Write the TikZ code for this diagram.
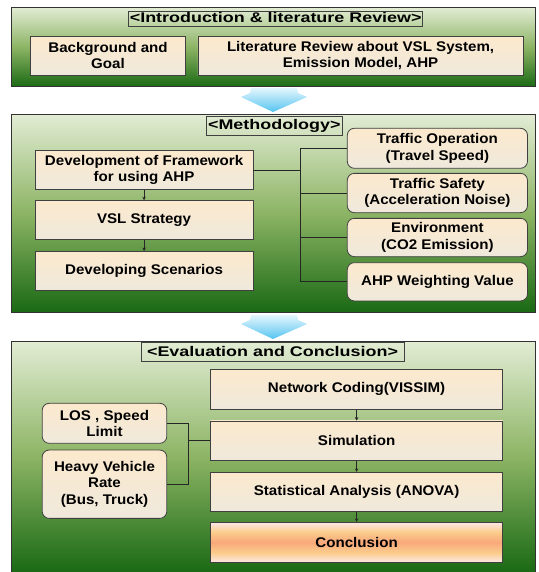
\documentclass[tikz,border=0pt]{standalone}
\usepackage{fontspec}
\setmainfont{Liberation Sans}[FakeStretch=1.08]
\newfontfamily\headfont{Liberation Sans}[FakeStretch=1.28]
\usetikzlibrary{arrows.meta}
\definecolor{panTop}{RGB}{226,236,212}
\definecolor{panMid}{RGB}{140,180,100}
\definecolor{panBot}{RGB}{26,105,20}
\definecolor{boxTop}{RGB}{252,233,205}
\definecolor{boxBot}{RGB}{239,233,220}
\definecolor{arrTop}{RGB}{228,246,253}
\definecolor{arrBot}{RGB}{85,196,240}
\definecolor{cPink}{RGB}{253,232,232}
\definecolor{cOrL}{RGB}{251,205,140}
\definecolor{cOr}{RGB}{249,168,122}
\pgfdeclareverticalshading{conclshade}{100bp}{color(0bp)=(cPink); color(25bp)=(cPink); color(37bp)=(cOrL); color(50bp)=(cOr); color(63bp)=(cOrL); color(75bp)=(cPink); color(100bp)=(cPink)}

\begin{document}
\begin{tikzpicture}[x=20pt, y=-20pt,
		font=\fontsize{14}{16.5}\selectfont\bfseries,
		panel/.style={draw=black!80, line width=1pt, top color=panTop, bottom color=panBot, middle color=panMid},
		heading/.style={draw=black!75, line width=0.6pt, inner sep=0pt, text height=10.5pt, text depth=2.5pt, font=\fontsize{14}{16}\selectfont\headfont\bfseries},
		box/.style={draw=black!75, line width=0.8pt, top color=boxTop, bottom color=boxBot, align=center, inner sep=2pt},
		rbox/.style={box, rounded corners=7pt},
		link/.style={draw=black!85, line width=0.7pt},
		flow/.style={link, -{Stealth[length=3.5pt, width=3.5pt]}},
		downarrow/.style={top color=arrTop, bottom color=arrBot, draw=none}]
			%%%%% START %%%%%
			
			\useasboundingbox (0, 0) rectangle (26.9, 28.6);
			
			% introduction panel
			\draw[panel] (0.55, 0.365) rectangle (26.75, 4.35);
			\node[heading, minimum width=294pt, minimum height=14.3pt] (intro) at (13.785, 0.94) {<Introduction \& literature Review>};
			\node[box, minimum width=155.5pt, minimum height=39.3pt] (bg) at (5.4, 2.783) {Background and\\Goal};
			\node[box, minimum width=325.3pt, minimum height=39.3pt] (lit) at (18.03, 2.783) {Literature Review about VSL System,\\Emission Model, AHP};
			
			\shade[downarrow] (12.55, 4.4) -- (14.85, 4.4) -- (14.9, 4.65) -- (15.35, 4.85) -- (13.65, 5.6) -- (12.05, 4.85) -- (12.5, 4.65) -- cycle;
			
			% methodology panel
			\draw[panel] (0.55, 5.715) rectangle (26.75, 15.615);
			\node[heading, minimum width=136.5pt, minimum height=18.3pt] (meth) at (13.715, 6.29) {<Methodology>};
			\node[box, minimum width=217.6pt, minimum height=38.7pt] (dev) at (7.205, 8.5) {Development of Framework\\for using AHP};
			\node[box, minimum width=217.6pt, minimum height=38.7pt] (vsl) at (7.205, 11) {VSL Strategy};
			\node[box, minimum width=217.6pt, minimum height=38.7pt] (scen) at (7.205, 13.54) {Developing Scenarios};
			
			\node[rbox, minimum width=180.2pt, minimum height=40pt] (oper) at (21.87, 7.415) {Traffic Operation\\(Travel Speed)};
			\node[rbox, minimum width=180.2pt, minimum height=39.3pt] (safe) at (21.87, 9.65) {Traffic Safety\\(Acceleration Noise)};
			\node[rbox, minimum width=180.2pt, minimum height=38.3pt] (env) at (21.87, 11.875) {Environment\\(CO2 Emission)};
			\node[rbox, minimum width=180.2pt, minimum height=38.3pt] (ahp) at (21.87, 14.09) {AHP Weighting Value};
			
			\draw[flow] (dev) -- (vsl);
			\draw[flow] (vsl) -- (scen);
			
			\coordinate (mj) at (15.015, 0);
			\draw[link] (dev.east) -- (dev.east -| mj);
			\draw[link] (mj |- oper.west) -- (mj |- ahp.west);
			\foreach \n in {oper, safe, env, ahp}
				\draw[link] (mj |- \n.west) -- (\n.west);
			
			\shade[downarrow] (12.55, 15.75) -- (14.85, 15.75) -- (14.9, 16) -- (15.35, 16.2) -- (13.65, 16.95) -- (12.05, 16.2) -- (12.5, 16) -- cycle;
			
			% evaluation panel
			\draw[panel] (0.55, 17.05) rectangle (26.75, 28.65);
			\node[heading, minimum width=263pt, minimum height=19.3pt] (eval) at (13.625, 17.6) {<Evaluation and Conclusion>};
			\node[box, minimum width=292.3pt, minimum height=40pt] (code) at (17.83, 19.465) {Network Coding(VISSIM)};
			\node[box, minimum width=292.3pt, minimum height=39.7pt] (sim) at (17.83, 22.04) {Simulation};
			\node[box, minimum width=292.3pt, minimum height=39pt] (stat) at (17.83, 24.59) {Statistical Analysis (ANOVA)};
			\node[box, shading=conclshade, minimum width=292.3pt, minimum height=40pt] (concl) at (17.83, 27.115) {Conclusion};
			
			\node[rbox, minimum width=124.6pt, minimum height=40pt] (los) at (5.225, 21.165) {LOS , Speed\\Limit};
			\node[rbox, minimum width=124.6pt, minimum height=68.3pt] (heavy) at (5.225, 24.21) {Heavy Vehicle\\Rate\\(Bus, Truck)};
			
			\draw[flow] (code) -- (sim);
			\draw[flow] (sim) -- (stat);
			\draw[flow] (stat) -- (concl);
			
			\coordinate (ej) at (9.42, 0);
			\draw[link] (los.east) -- (ej |- los.east) -- (ej |- heavy.east) -- (heavy.east);
			\draw[link] (ej |- sim.west) -- (sim.west);
			
			%%%%% END %%%%%
		\end{tikzpicture}
\end{document}
